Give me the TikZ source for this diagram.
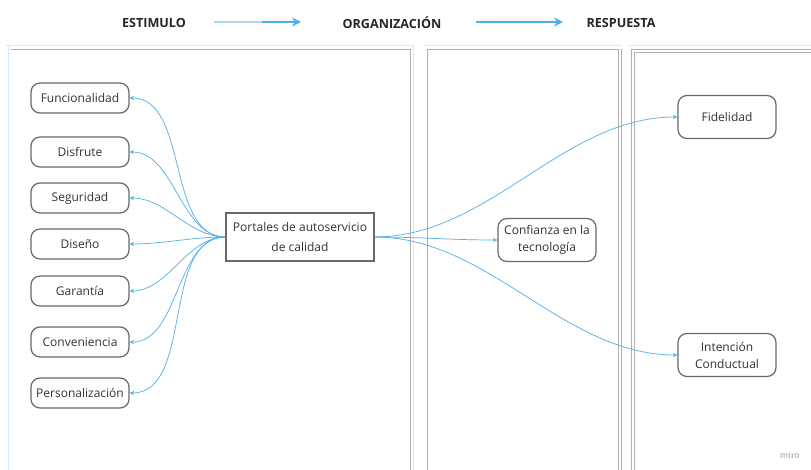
\documentclass[tikz,border=0pt]{standalone}
\usepackage{fontspec}
\setmainfont{Open Sans}
\usetikzlibrary{arrows.meta,calc}
\definecolor{lnk}{RGB}{80,175,228}
\definecolor{lnkpale}{RGB}{170,215,240}
\definecolor{pgray}{RGB}{175,175,180}
\definecolor{pblue}{RGB}{215,235,248}
\definecolor{bord}{RGB}{105,105,105}
\tikzset{
  pill/.style={draw=bord, line width=1.2pt, rounded corners=9pt, minimum width=98pt, minimum height=30pt, inner sep=1pt, align=center, font=\fontsize{12}{17}\selectfont, text=black!80},
  rbox/.style={draw=bord, line width=1.2pt, rounded corners=9pt, minimum width=98pt, minimum height=43pt, inner sep=1pt, align=center, font=\fontsize{12}{17}\selectfont, text=black!80},
  sqbox/.style={draw=bord, line width=1.2pt, minimum width=148pt, minimum height=48pt, inner sep=1pt, align=center, font=\fontsize{12}{20}\selectfont, text=black!80},
  hdr/.style={font=\bfseries\fontsize{12.6}{15}\selectfont, text=black!85},
  conn/.style={draw=lnk, line width=0.7pt, -{Stealth[length=4.5pt,width=4pt]}},
  harrow/.style={line width=1.6pt, -{Stealth[length=9pt,width=9pt]}},
  panelin/.style={draw=pgray, line width=0.8pt},
  panelout/.style={draw=pblue, line width=0.8pt}
}
\begin{document}
\begin{tikzpicture}[x=1pt,y=-1pt]
\useasboundingbox (0,0) rectangle (811,470);
\fill[white] (0,0) rectangle (811,470);
% panels
\draw[panelout] (8,45) -- (8,472);
\draw[panelout] (6,45) -- (414,45);
\draw[panelout] (413,45) -- (413,472);
\draw[panelin] (11,49) -- (410,49) -- (410,472);
\draw[panelout] (424,45) -- (622,45);
\draw[panelin] (427,472) -- (427,49) -- (618,49) -- (618,472);
\draw[panelin] (621,49) -- (621,472);
\draw[panelout] (628,45) -- (811,45);
\draw[panelin] (631,472) -- (631,49) -- (811,49);
\draw[panelin] (634,472) -- (634,52) -- (811,52);
% header
\node[hdr] (est) at (154,23) {ESTIMULO};
\node[hdr] (org) at (392,23) {ORGANIZACIÓN};
\node[hdr] (res) at (621,23) {RESPUESTA};
\coordinate (a1s) at (214,22);
\coordinate (a1e) at (301,22);
\coordinate (a2s) at (476,22);
\coordinate (a2e) at (563,22);
\draw[harrow, draw=lnkpale, -] (a1s) -- ($(a1s)!0.6!(a1e)$);
\draw[harrow, draw=lnk, line width=1.3pt] ($(a1s)!0.55!(a1e)$) -- (a1e);
\draw[harrow, draw=lnk, line width=1.3pt] (a2s) -- (a2e);
% nodes
\node[pill] (f1) at (80,98) {Funcionalidad};
\node[pill] (f2) at (80,152) {Disfrute};
\node[pill] (f3) at (80,198) {Seguridad};
\node[pill] (f4) at (80,244) {Diseño};
\node[pill] (f5) at (80,291) {Garantía};
\node[pill] (f6) at (80,342) {Conveniencia};
\node[pill] (f7) at (80,393) {Personalización};
\node[sqbox] (p) at (300,237) {Portales de autoservicio\\de calidad};
\node[rbox] (c) at (547,240) {Confianza en la\\tecnología};
\node[rbox] (fi) at (727,117) {Fidelidad};
\node[rbox] (ic) at (727,355) {Intención\\Conductual};
\node[font=\bfseries\fontsize{8.5}{9}\selectfont, text=black!25] (miro) at (790,455) {miro};
% connectors
\foreach \t in {f1,f2,f3,f4,f5,f6,f7}{
  \draw[conn] (p.west) to[out=180,in=0,looseness=0.9] (\t.east);
}
\draw[conn] (p.east) to[out=0,in=180] (c.west);
\draw[conn] (p.east) to[out=0,in=180,looseness=0.9] (fi.west);
\draw[conn] (p.east) to[out=0,in=180,looseness=0.9] (ic.west);
\end{tikzpicture}
\end{document}
